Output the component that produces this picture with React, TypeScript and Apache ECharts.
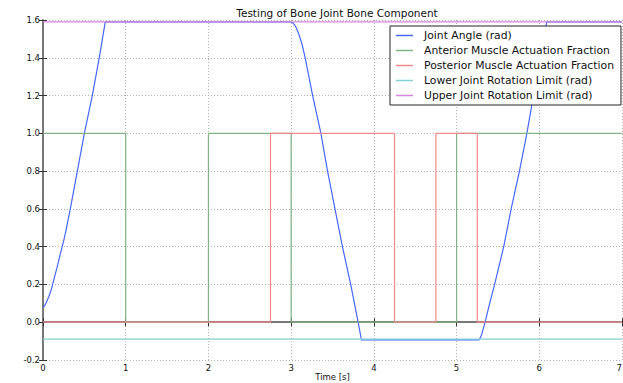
import React, { useEffect, useRef } from "react";
import * as echarts from "echarts";

const title = "Testing of Bone Joint Bone Component";
const xLabel = "Time [s]";
const seriesNames = [
  "Joint Angle (rad)",
  "Anterior Muscle Actuation Fraction",
  "Posterior Muscle Actuation Fraction",
  "Lower Joint Rotation Limit (rad)",
  "Upper Joint Rotation Limit (rad)",
];

const angleTimes = [
  0, 0.01, 0.02, 0.035, 0.05, 0.07, 0.09, 0.105, 0.14, 0.17, 0.2, 0.226, 0.255, 0.28, 0.33, 0.415, 0.5, 0.596, 0.68, 0.753,
  3.0, 3.02, 3.04, 3.06, 3.08, 3.1, 3.13, 3.17, 3.26, 3.36, 3.44, 3.53, 3.62, 3.72, 3.81, 3.85,
  5.27, 5.28, 5.295, 5.31, 5.325, 5.345, 5.4, 5.46, 5.57, 5.66, 5.76, 5.85, 5.93, 6.01, 6.09, 7,
];
const angleValues = [
  0.08, 0.082, 0.088, 0.1, 0.115, 0.135, 0.16, 0.18, 0.24, 0.29, 0.345, 0.39, 0.44, 0.49, 0.6, 0.8, 1.0, 1.2, 1.4, 1.59,
  1.59, 1.585, 1.575, 1.56, 1.54, 1.515, 1.475, 1.4, 1.2, 1.0, 0.8, 0.6, 0.4, 0.2, 0.0, -0.093,
  -0.093, -0.088, -0.075, -0.055, -0.03, 0.0, 0.1, 0.2, 0.4, 0.6, 0.8, 1.0, 1.2, 1.4, 1.59, 1.59,
];

const anteriorTimes = [0, 1, 2, 3, 5, 7];
const anteriorValues = [1, 0, 1, 0, 1, 1];

const posteriorTimes = [0, 2.75, 4.25, 4.75, 5.25, 7];
const posteriorValues = [0, 1, 0, 1, 0, 0];

const lowerLimit = -0.09;
const upperLimit = 1.59;
const timeRange = [0, 7];

const colors = ["#4468ff", "#80b480", "#f08a8a", "#80d0d8", "#d884dc"];

const font = "DejaVu Sans";

export default function App() {
  const ref = useRef<HTMLDivElement>(null);
  useEffect(() => {
    if (!ref.current) return;
    const chart = echarts.init(ref.current, undefined, { renderer: "svg" });
    const zip = (t: number[], v: number[]) => t.map((x, i) => [x, v[i]]);
    const axisLine = { show: true, lineStyle: { color: "#707070", width: 1.5 } };
    const splitLine = { show: true, lineStyle: { color: "#b0b0b0", width: 1, type: [1, 2] as any } };
    const axisTick = { show: true, inside: true, length: 4, lineStyle: { color: "#333" } };
    chart.setOption({
      animation: false,
      color: colors,
      title: {
        text: title,
        left: 332,
        textAlign: "center",
        top: 2,
        textStyle: { fontFamily: font, fontSize: 10.5, fontWeight: "normal", color: "#111" },
      },
      grid: { left: 43, right: 1, top: 20, bottom: 23, containLabel: false, outerBoundsMode: "none" },
      legend: {
        orient: "vertical",
        left: 390,
        top: 26,
        padding: [2, 7, 2, 6],
        itemGap: 0,
        itemWidth: 17,
        itemHeight: 1.5,
        icon: "rect",
        borderColor: "#222",
        borderWidth: 1,
        borderRadius: 0,
        backgroundColor: "#fff",
        textStyle: { fontFamily: font, fontSize: 10.8, color: "#111", lineHeight: 15, padding: [0, 0, 0, 6] },
        data: seriesNames,
      },
      xAxis: [
        {
          type: "value",
          min: timeRange[0],
          max: timeRange[1],
          interval: 1,
          name: xLabel,
          nameLocation: "middle",
          nameGap: 12,
          nameMoveOverlap: false,
          nameTextStyle: { fontFamily: font, fontSize: 8.5, color: "#111", verticalAlign: "top" },
          axisLine,
          axisTick,
          axisLabel: { fontFamily: font, fontSize: 8.5, color: "#111", margin: 3, alignMaxLabel: "right" },
          splitLine,
        },
        {
          type: "value",
          position: "top",
          min: timeRange[0],
          max: timeRange[1],
          interval: 1,
          axisLine,
          axisTick,
          axisLabel: { show: false },
          splitLine: { show: false },
        },
      ],
      yAxis: [
        {
          type: "value",
          min: -0.2,
          max: 1.6,
          interval: 0.2,
          axisLine,
          axisTick,
          axisLabel: {
            fontFamily: font,
            fontSize: 8.5,
            color: "#111",
            margin: 3,
            formatter: (v: number) => v.toFixed(1),
          },
          splitLine,
        },
        {
          type: "value",
          position: "right",
          min: -0.2,
          max: 1.6,
          interval: 0.2,
          axisLine,
          axisTick,
          axisLabel: { show: false },
          splitLine: { show: false },
        },
      ],
      series: [
        {
          name: seriesNames[0],
          type: "line",
          data: zip(angleTimes, angleValues),
          showSymbol: false,
          symbol: "none",
          lineStyle: { width: 1.2 },
        },
        {
          name: seriesNames[1],
          type: "line",
          step: "end",
          data: zip(anteriorTimes, anteriorValues),
          symbol: "none",
          lineStyle: { width: 1.2 },
        },
        {
          name: seriesNames[2],
          type: "line",
          step: "end",
          data: zip(posteriorTimes, posteriorValues),
          symbol: "none",
          lineStyle: { width: 1.2 },
        },
        {
          name: seriesNames[3],
          type: "line",
          data: timeRange.map((t) => [t, lowerLimit]),
          symbol: "none",
          lineStyle: { width: 1.2 },
        },
        {
          name: seriesNames[4],
          type: "line",
          data: timeRange.map((t) => [t, upperLimit]),
          symbol: "none",
          lineStyle: { width: 1.2 },
        },
      ],
    });
    return () => chart.dispose();
  }, []);
  return (
    <div
      ref={ref}
      style={{ position: "absolute", left: 0, top: 0, width: 623, height: 383, background: "#fff" }}
    />
  );
}
